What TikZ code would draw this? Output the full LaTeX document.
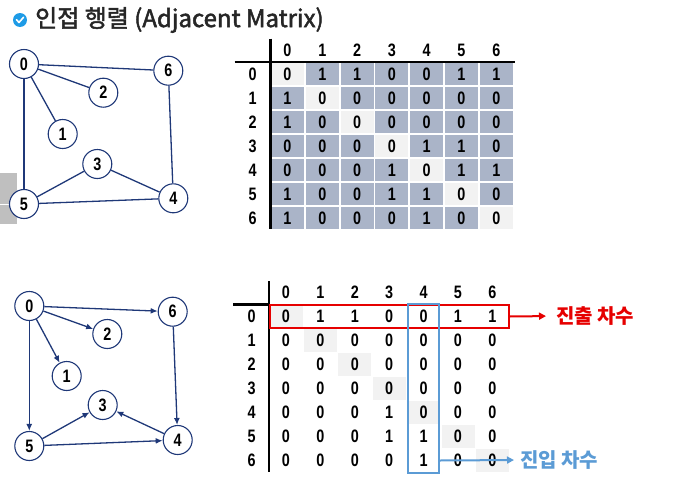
\documentclass[tikz,border=0pt]{standalone}
\usepackage{fontspec}
\setmainfont{Liberation Sans}
\newfontfamily\krfont{Noto Sans CJK KR}
\newfontfamily\krtitle[FakeBold=2]{Noto Sans CJK KR}
\newfontfamily\numfont[FakeStretch=0.8]{Liberation Sans}
\usepackage{tikz}
\usetikzlibrary{fit,shapes,calc,matrix,positioning,arrows.meta}

\definecolor{edgenavy}{RGB}{31,56,120}
\definecolor{cellblue}{RGB}{170,180,200}
\definecolor{diaggray}{RGB}{242,242,242}
\definecolor{degred}{RGB}{230,0,0}
\definecolor{degblue}{RGB}{91,155,213}
\definecolor{iconblue}{RGB}{30,155,230}
\definecolor{sidegray}{RGB}{191,191,191}
\definecolor{titlegray}{RGB}{38,38,38}

\tikzset{
  vtx/.style={circle, draw=edgenavy, line width=1.1pt, fill=white, minimum size=29pt, inner sep=0pt,
              font=\numfont\bfseries\fontsize{18}{18}\selectfont},
  edg/.style={draw=edgenavy, line width=1.3pt},
  arc/.style={edg, -{Latex[length=7pt,width=6pt]}},
  tbl/.style={matrix of nodes, ampersand replacement=\&, nodes in empty cells, row sep=1.5pt,
              nodes={shape=rectangle, minimum width=33pt, minimum height=22.5pt, inner sep=0pt, anchor=center,
                     font=\numfont\bfseries\fontsize{18}{18}\selectfont}},
  cb/.style={fill=cellblue},
  cd/.style={fill=diaggray},
  deglbl/.style={anchor=west, inner sep=2pt, font=\krfont\bfseries\fontsize{20}{20}\selectfont}
}

\begin{document}
\begin{tikzpicture}[x=1pt, y=-1pt]
\useasboundingbox (0,0) rectangle (691,477);

% title
\node (icon) [circle, fill=iconblue, minimum size=14pt, inner sep=0pt] at (20,20) {};
\draw[white, line width=1.6pt, line cap=round, line join=round]
  ([shift={(-3.5pt,0.3pt)}]icon.center) -- ([shift={(-1pt,-2.5pt)}]icon.center) -- ([shift={(3.5pt,2.7pt)}]icon.center);
\node (title) [anchor=west, inner sep=0pt, text=titlegray, font=\krtitle\fontsize{24}{24}\selectfont] at (35,20) {인접 행렬 (Adjacent Matrix)};

\fill[sidegray] (0,173) rectangle (17,224);
\draw[white, line width=1pt] (0,204) -- (9,204);

% undirected graph
\node[vtx] (u0) at (24,64) {0};
\node[vtx] (u6) at (168.3,70.7) {6};
\node[vtx] (u2) at (103.3,92.7) {2};
\node[vtx] (u1) at (62.7,134) {1};
\node[vtx] (u3) at (97.3,164) {3};
\node[vtx] (u4) at (173.3,198.3) {4};
\node[vtx] (u5) at (24,204) {5};
\foreach \a/\b in {0/6,0/2,0/1,0/5,5/3,3/4,5/4,6/4}
  \draw[edg] (u\a) -- (u\b);

\matrix (ma) [tbl, column sep=1.8pt] at (374.5,134) {
      \& 0        \& 1        \& 2        \& 3        \& 4        \& 5        \& 6 \\
    0 \& |[cd]| 0 \& |[cb]| 1 \& |[cb]| 1 \& |[cb]| 0 \& |[cb]| 0 \& |[cb]| 1 \& |[cb]| 1 \\
    1 \& |[cb]| 1 \& |[cd]| 0 \& |[cb]| 0 \& |[cb]| 0 \& |[cb]| 0 \& |[cb]| 0 \& |[cb]| 0 \\
    2 \& |[cb]| 1 \& |[cb]| 0 \& |[cd]| 0 \& |[cb]| 0 \& |[cb]| 0 \& |[cb]| 0 \& |[cb]| 0 \\
    3 \& |[cb]| 0 \& |[cb]| 0 \& |[cb]| 0 \& |[cd]| 0 \& |[cb]| 1 \& |[cb]| 1 \& |[cb]| 0 \\
    4 \& |[cb]| 0 \& |[cb]| 0 \& |[cb]| 0 \& |[cb]| 1 \& |[cd]| 0 \& |[cb]| 1 \& |[cb]| 1 \\
    5 \& |[cb]| 1 \& |[cb]| 0 \& |[cb]| 0 \& |[cb]| 1 \& |[cb]| 1 \& |[cd]| 0 \& |[cb]| 0 \\
    6 \& |[cb]| 1 \& |[cb]| 0 \& |[cb]| 0 \& |[cb]| 0 \& |[cb]| 1 \& |[cb]| 0 \& |[cd]| 0 \\
};
\draw[line width=2.5pt] ([xshift=-1.5pt,yshift=-0.75pt]ma-1-1.south west) -- ([xshift=2pt,yshift=-0.75pt]ma-1-8.south east);
\draw[line width=2.5pt] ([xshift=0.9pt]ma-1-1.north east) -- ([xshift=0.9pt]ma-8-1.south east);

% directed graph
\node[vtx] (v0) at (29.3,306) {0};
\node[vtx] (v6) at (172.7,311.7) {6};
\node[vtx] (v2) at (107.3,334) {2};
\node[vtx] (v1) at (66.7,376) {1};
\node[vtx] (v3) at (102.7,405) {3};
\node[vtx] (v4) at (177.7,440) {4};
\node[vtx] (v5) at (29.3,446) {5};
\foreach \a/\b in {0/6,0/2,0/1,0/5,5/3,4/3,5/4,6/4}
  \draw[arc] (v\a) -- (v\b);

\matrix (mb) [tbl, column sep=1.4pt] at (372,376.5) {
      \& 0        \& 1        \& 2        \& 3        \& 4        \& 5        \& 6 \\
    0 \& |[cd]| 0 \& 1        \& 1        \& 0        \& 0        \& 1        \& 1 \\
    1 \& 0        \& |[cd]| 0 \& 0        \& 0        \& 0        \& 0        \& 0 \\
    2 \& 0        \& 0        \& |[cd]| 0 \& 0        \& 0        \& 0        \& 0 \\
    3 \& 0        \& 0        \& 0        \& |[cd]| 0 \& 0        \& 0        \& 0 \\
    4 \& 0        \& 0        \& 0        \& 1        \& |[cd]| 0 \& 0        \& 0 \\
    5 \& 0        \& 0        \& 0        \& 1        \& 1        \& |[cd]| 0 \& 0 \\
    6 \& 0        \& 0        \& 0        \& 0        \& 1        \& 0        \& |[cd]| 0 \\
};
\draw[line width=2.5pt] ([xshift=-1.5pt,yshift=-0.75pt]mb-1-1.south west) -- ([yshift=-0.75pt]mb-1-1.south east);
\draw[line width=2.5pt] ([xshift=0.7pt]mb-1-1.north east) -- ([xshift=0.7pt]mb-8-1.south east);

% out-degree / in-degree
\node (outbox) [fit=(mb-2-2) (mb-2-8), draw=degred, line width=2pt, inner xsep=-0.5pt, inner ysep=0.5pt] {};
\node (inbox) [fit=(mb-2-6) (mb-8-6), draw=degblue, line width=2pt, inner xsep=-1.5pt, inner ysep=1.5pt] {};
\node (outlbl) [deglbl, text=degred] at (554,316) {진출 차수};
\node (inlbl) [deglbl, text=degblue] at (518,460) {진입 차수};
\draw[degred, line width=2pt, -{Triangle[length=7pt,width=7pt]}, shorten >=8pt] (outbox.east) -- (outlbl.west);
\draw[degblue, line width=2pt, -{Triangle[length=7pt,width=7pt]}, shorten >=4pt] (inbox.east |- mb-8-6) -- (inlbl.west);
\end{tikzpicture}
\end{document}
